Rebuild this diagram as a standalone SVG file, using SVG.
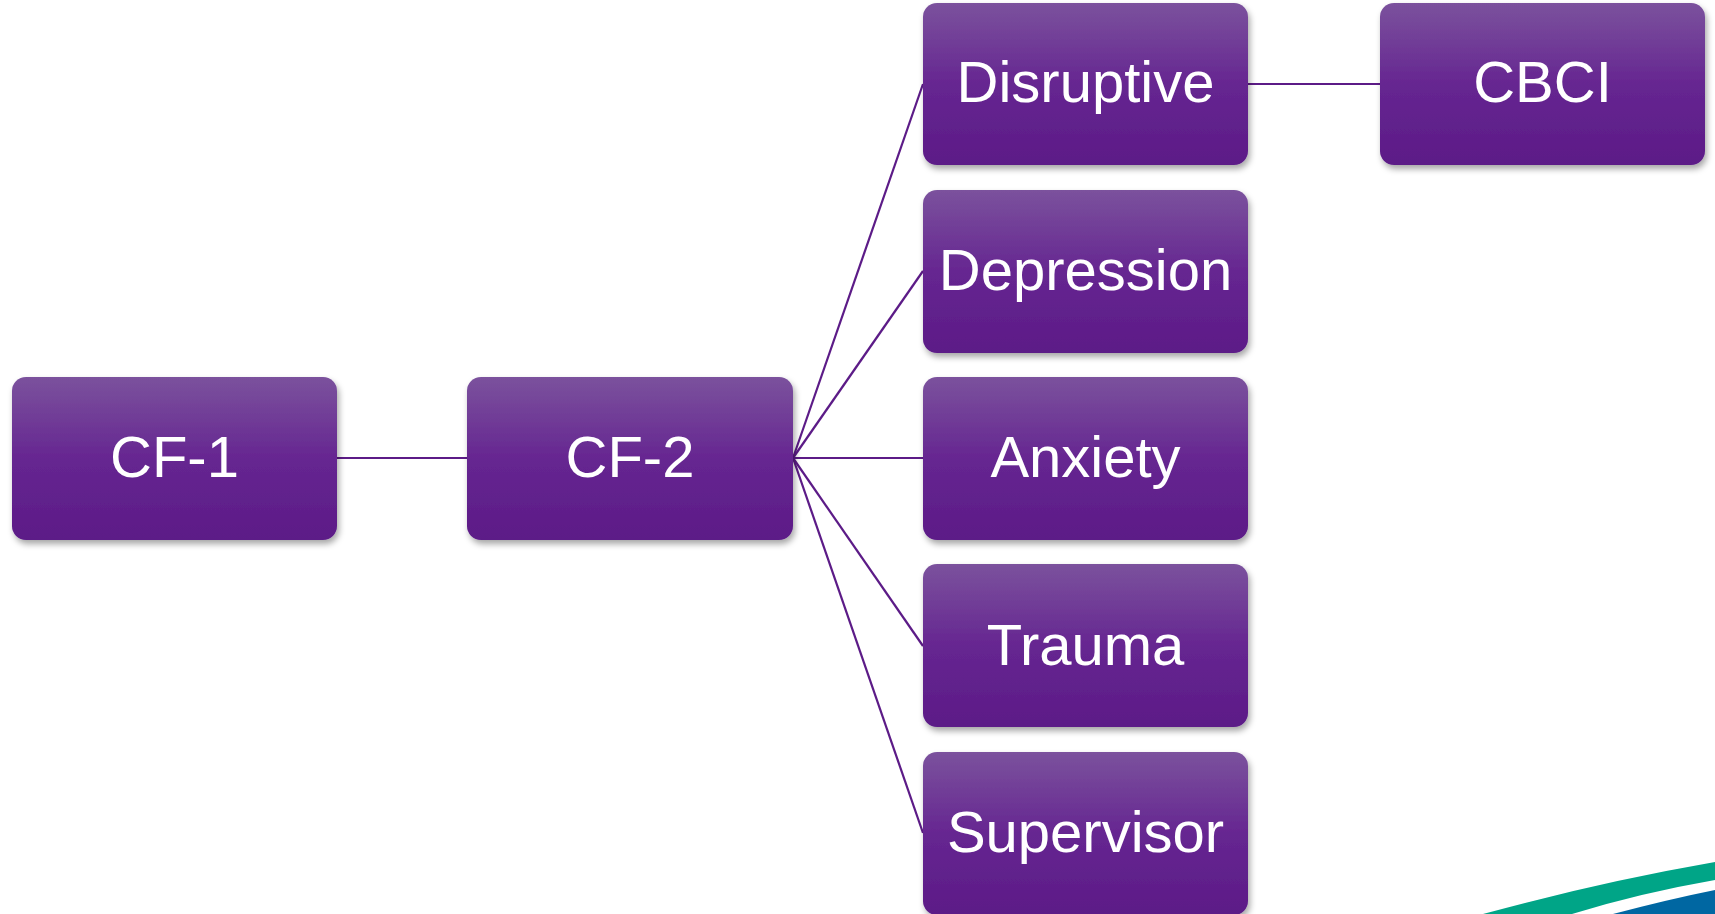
<svg xmlns="http://www.w3.org/2000/svg" width="1715" height="914" viewBox="0 0 1715 914">
<defs>
<linearGradient id="g" x1="0" y1="0" x2="0" y2="1">
<stop offset="0" stop-color="#7B529D"/>
<stop offset="0.5" stop-color="#662691"/>
<stop offset="1" stop-color="#5C1B87"/>
</linearGradient>
<filter id="sh" x="-10%" y="-10%" width="125%" height="130%">
<feDropShadow dx="2" dy="4" stdDeviation="3" flood-color="#000" flood-opacity="0.35"/>
</filter>
</defs>
<style>
.box{fill:url(#g);filter:url(#sh)}
.t{fill:#fff;font-family:"Liberation Sans",Arial,sans-serif;font-size:58px;text-anchor:middle}
.c{stroke:#5C1B87;stroke-width:2.2;fill:none}
</style>
<rect width="1715" height="914" fill="#fff"/>
<g id="connectors">
<line class="c" x1="337" y1="458" x2="467" y2="458"/>
<line class="c" x1="1248" y1="84" x2="1380" y2="84"/>
<line class="c" x1="793" y1="458" x2="923" y2="84"/>
<line class="c" x1="793" y1="458" x2="923" y2="271"/>
<line class="c" x1="793" y1="458" x2="923" y2="458"/>
<line class="c" x1="793" y1="458" x2="923" y2="646"/>
<line class="c" x1="793" y1="458" x2="923" y2="833"/>
</g>
<g id="cf1"><rect class="box" x="12" y="377" width="325" height="163" rx="14"/><text class="t" x="174.5" y="477">CF-1</text></g>
<g id="cf2"><rect class="box" x="467" y="377" width="326" height="163" rx="14"/><text class="t" x="630" y="477">CF-2</text></g>
<g id="disruptive"><rect class="box" x="923" y="3" width="325" height="162" rx="14"/><text class="t" x="1085.5" y="102">Disruptive</text></g>
<g id="depression"><rect class="box" x="923" y="190" width="325" height="163" rx="14"/><text class="t" x="1085.5" y="290">Depression</text></g>
<g id="anxiety"><rect class="box" x="923" y="377" width="325" height="163" rx="14"/><text class="t" x="1085.5" y="477">Anxiety</text></g>
<g id="trauma"><rect class="box" x="923" y="564" width="325" height="163" rx="14"/><text class="t" x="1085.5" y="665">Trauma</text></g>
<g id="supervisor"><rect class="box" x="923" y="752" width="325" height="163" rx="14"/><text class="t" x="1085.5" y="852">Supervisor</text></g>
<g id="cbci"><rect class="box" x="1380" y="3" width="325" height="162" rx="14"/><text class="t" x="1542.5" y="102">CBCI</text></g>
<path d="M1483,914 Q1600,882 1715,862 L1715,880 Q1640,893 1572,914 Z" fill="#00A587"/>
<path d="M1613,914 Q1670,899 1715,890 L1715,914 Z" fill="#0067A2"/>
</svg>
